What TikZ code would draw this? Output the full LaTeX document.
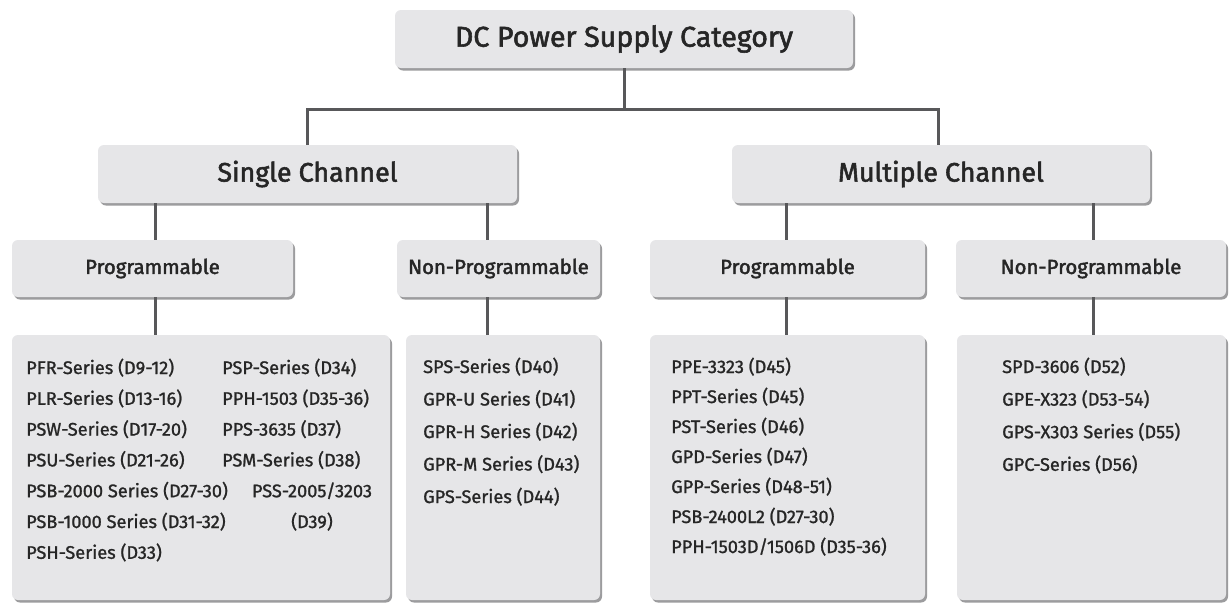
\documentclass[tikz,border=0pt]{standalone}
\usepackage{fontspec}
\setmainfont{Fira Sans}
\newfontfamily\headfont{Fira Sans}[FakeBold=2]
\newfontfamily\listfont{Fira Sans}[FakeBold=1.2]
\usetikzlibrary{shadows}
\definecolor{boxfill}{HTML}{E6E6E8}
\definecolor{shade}{HTML}{9C9C9E}
\definecolor{linec}{HTML}{58585A}
\definecolor{txt}{HTML}{262626}
\begin{document}
\begin{tikzpicture}[x=1pt,y=-1pt,
  box/.style={fill=boxfill, rounded corners=6pt, inner sep=0pt, text=txt,
    drop shadow={shadow xshift=2pt, shadow yshift=-2.5pt, fill=shade, opacity=1}},
  conn/.style={draw=linec, line width=3pt},
  bigbox/.style={box, minimum height=58pt},
  midbox/.style={box, minimum height=57pt, font=\headfont\fontsize{20.4}{24}\selectfont},
  listbox/.style={box, minimum height=265pt},
  item/.style={inner sep=0pt, text=txt, font=\listfont\fontsize{18.2}{20}\selectfont}
]
\fill[white] (0,0) rectangle (1229,603);
\useasboundingbox (0,0) rectangle (1229,603);

% level 1 and 2
\node[bigbox, minimum width=458pt, font=\headfont\fontsize{28.6}{32}\selectfont] (top) at (624,39) {DC Power Supply Category};
\node[bigbox, minimum width=419pt, font=\headfont\fontsize{26.8}{30}\selectfont] (single) at (307.5,174) {Single Channel};
\node[bigbox, minimum width=418pt, font=\headfont\fontsize{26.8}{30}\selectfont] (multi) at (941,174) {Multiple Channel};

% level 3
\node[midbox, minimum width=281pt] (sp) at (152.5,268.5) {Programmable};
\node[midbox, minimum width=203pt] (sn) at (498.5,268.5) {Non-Programmable};
\node[midbox, minimum width=275pt] (mp) at (787.5,268.5) {Programmable};
\node[midbox, minimum width=270pt] (mn) at (1091,268.5) {Non-Programmable};

% list boxes
\node[listbox, minimum width=378pt] (spl) at (201,467.5) {};
\node[listbox, minimum width=194pt] (snl) at (503,467.5) {};
\node[listbox, minimum width=275pt] (mpl) at (787.5,467.5) {};
\node[listbox, minimum width=269pt] (mnl) at (1091.5,467.5) {};

% connectors
\coordinate (hy) at (624,110);
\draw[conn] (top.south) -- (hy);
\draw[conn] ([xshift=-0.5pt]single.north) -- ++(0,-35) -| ([xshift=-3pt]multi.north);
\draw[conn] ([xshift=2.5pt]sp.north) -- ([xshift=2.5pt]sp.north |- single.south);
\draw[conn] ([xshift=-11.5pt]sn.north) -- ([xshift=-11.5pt]sn.north |- single.south);
\draw[conn] ([xshift=-1.5pt]mp.north) -- ([xshift=-1.5pt]mp.north |- multi.south);
\draw[conn] ([xshift=2pt]mn.north) -- ([xshift=2pt]mn.north |- multi.south);
\draw[conn] ([xshift=2.5pt]sp.south) -- ([xshift=2.5pt]sp.south |- spl.north);
\draw[conn] ([xshift=-11.5pt]sn.south) -- ([xshift=-11.5pt]sn.south |- snl.north);
\draw[conn] ([xshift=-1.5pt]mp.south) -- ([xshift=-1.5pt]mp.south |- mpl.north);
\draw[conn] ([xshift=2pt]mn.south) -- ([xshift=2pt]mn.south |- mnl.north);

% list texts
\foreach \t [count=\i] in {PFR-Series (D9-12),PLR-Series (D13-16),PSW-Series (D17-20),PSU-Series (D21-26),PSB-2000 Series (D27-30),PSB-1000 Series (D31-32),PSH-Series (D33)}
  \node[item, anchor=base west] (spa\i) at (26,{374+30.8*(\i-1)}) {\t};
\foreach \t [count=\i] in {PSP-Series (D34),PPH-1503 (D35-36),PPS-3635 (D37),PSM-Series (D38)}
  \node[item, anchor=base west] (spb\i) at (222,{374+30.8*(\i-1)}) {\t};
\node[item, anchor=base] (pss1) at (312,{374+30.8*4}) {PSS-2005/3203};
\node[item, anchor=base] (pss2) at (312,{374+30.8*5}) {(D39)};
\foreach \t [count=\i] in {SPS-Series (D40),GPR-U Series (D41),GPR-H Series (D42),GPR-M Series (D43),GPS-Series (D44)}
  \node[item, anchor=base west] (sna\i) at (423,{373+32.5*(\i-1)}) {\t};
\foreach \t [count=\i] in {PPE-3323 (D45),PPT-Series (D45),PST-Series (D46),GPD-Series (D47),GPP-Series (D48-51),PSB-2400L2 (D27-30),PPH-1503D/1506D (D35-36)}
  \node[item, anchor=base west] (mpa\i) at (671,{373+30*(\i-1)}) {\t};
\foreach \t [count=\i] in {SPD-3606 (D52),GPE-X323 (D53-54),GPS-X303 Series (D55),GPC-Series (D56)}
  \node[item, anchor=base west] (mna\i) at (1002,{373+32.6*(\i-1)}) {\t};
\end{tikzpicture}
\end{document}
